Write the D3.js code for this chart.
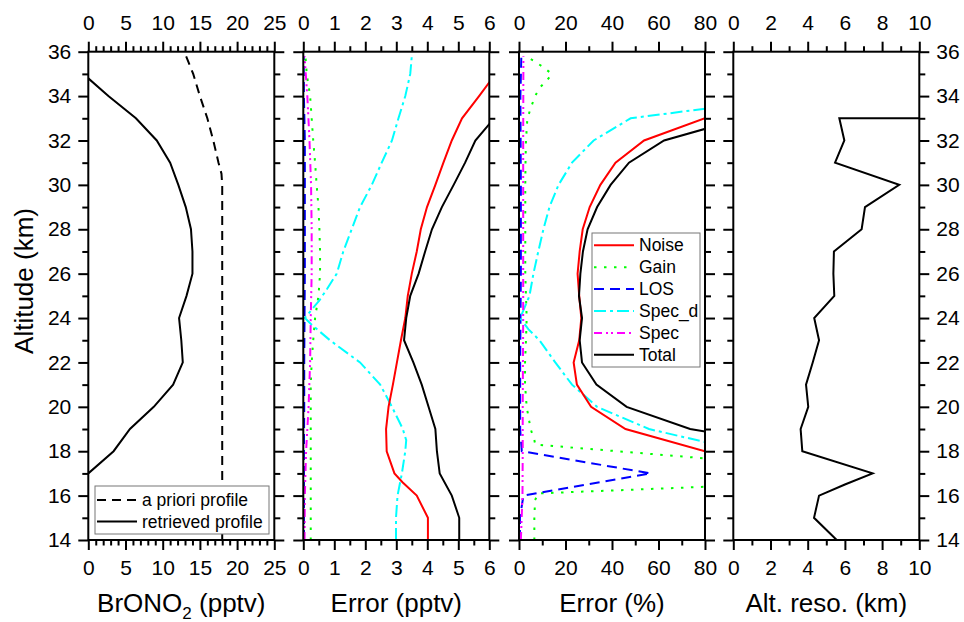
<!DOCTYPE html>
<html>
<head>
<meta charset="utf-8">
<script src="https://cdn.jsdelivr.net/npm/d3@7"></script>
<style>
  body { margin: 0; background: #fff; }
  svg { display: block; }
</style>
</head>
<body>
<div id="chart"></div>
<script>
// [altitude km, value] pairs

// panel 1: BrONO2 (pptv)
var aprioriProfile = [[14, 18], [30, 18], [30.5, 17.9], [31, 17.5], [32, 16.8], [33, 16.0], [34, 15.0], [35, 14.1], [36, 12.9]];
var retrievedProfile = [[17, 0], [18, 3.4], [19, 5.6], [20, 8.8], [21, 11.4], [22, 12.7], [23, 12.5], [24, 12.2], [25, 13.2],
  [26, 14.0], [27, 14.0], [28, 13.8], [29, 13.1], [30, 12.1], [31, 11.0], [32, 9.2], [33, 6.4], [34, 2.7], [34.8, 0]];

// panel 2: error (pptv)
var noisePptv = [[14, 4.02], [15, 4.02], [16, 3.66], [16.6, 3.2], [17, 2.94], [18, 2.69], [19, 2.67], [20, 2.75], [21, 2.89],
  [22, 3.02], [23, 3.15], [24, 3.29], [25, 3.37], [26, 3.50], [27, 3.66], [28, 3.79], [29, 3.99], [30, 4.26], [31, 4.52],
  [32, 4.79], [33, 5.12], [34, 5.67], [35, 6.2]];
var gainPptv = [[14, 0.24], [21, 0.24], [22, 0.27], [23, 0.32], [24, 0.38], [25, 0.49], [26, 0.54], [27, 0.54], [28, 0.52],
  [29, 0.49], [30, 0.43], [31, 0.38], [32, 0.32], [33, 0.27], [34, 0.22], [35, 0.11], [35.8, 0.07]];
var losPptv = [[14, 0.02], [18, 0.02], [20, 0.03], [22, 0.03], [24, 0.04], [26, 0.05], [28, 0.05], [30, 0.05], [32, 0.05],
  [34, 0.02], [35.8, 0.01]];
var specDPptv = [[14, 2.99], [15, 2.99], [16, 3.04], [17, 3.18], [18, 3.29], [18.5, 3.32], [19, 3.21], [20, 2.86], [21, 2.48],
  [22, 1.83], [23, 0.86], [23.7, 0.27], [24, 0.05], [24.8, 0.52], [25.3, 0.76], [26, 1.08], [27, 1.29], [28, 1.56], [29, 1.83],
  [30, 2.21], [31, 2.53], [32, 2.86], [33, 3.07], [34, 3.29], [35, 3.45], [35.8, 3.5]];
var specPptv = [[14, 0.04], [16, 0.05], [18, 0.09], [20, 0.17], [22, 0.22], [24, 0.24], [26, 0.27], [28, 0.27], [30, 0.25],
  [32, 0.2], [34, 0.13], [35.8, 0.04]];
var totalPptv = [[14, 5.03], [15, 5.03], [16, 4.79], [17, 4.40], [18, 4.31], [19, 4.26], [20, 4.04], [21, 3.82], [22, 3.55],
  [23, 3.25], [24, 3.32], [25, 3.45], [26, 3.72], [27, 3.93], [28, 4.15], [29, 4.47], [30, 4.85], [31, 5.22], [32, 5.55],
  [33, 6.16]];

// panel 3: error (%)
var noisePct = [[18, 80], [19, 45.8], [20, 31.0], [21, 24.9], [22, 23.5], [23, 25.9], [24, 26.8], [25, 25.9], [26, 25.2],
  [27, 26.1], [28, 27.4], [29, 30.4], [30, 35], [31, 41.5], [32, 53.8], [33, 80]];
var gainPct = [[14, 6.6], [15, 6.6], [15.8, 6.9], [16.1, 8.4], [16.5, 105], [17, 300], [17.5, 101], [18.3, 7], [18.5, 6.6],
  [19, 5.0], [20, 3.3], [21, 2.6], [22, 2.6], [23, 3.0], [24, 3.3], [25, 3.0], [26, 2.7], [27, 2.7], [28, 2.7], [29, 2.7],
  [30, 2.7], [31, 2.8], [32, 3.0], [33, 3.6], [33.5, 5.2], [34, 6.9], [34.4, 9.1], [34.7, 12], [35, 14.1], [35.3, 10.5],
  [35.6, 6.2], [35.8, 2.6]];
var losPct = [[14, 0.4], [15, 0.4], [16, 1.9], [17, 56.6], [18, 1.2], [19, 0.5], [22, 0.5], [26, 0.8], [30, 0.8], [34, 0.6],
  [35.8, 1.0]];
var specDPct = [[18, 97], [19, 55.9], [20, 33.6], [21, 22.8], [22, 15.6], [23, 8.8], [23.5, 4], [24, 0.5], [25, 4.5],
  [26, 6.2], [27, 8.3], [28, 10.5], [29, 13.1], [30, 17], [31, 22.8], [32, 32.1], [33, 48], [34, 122]];
var specPct = [[14, 0.8], [16, 1.5], [18, 1.6], [20, 1.6], [24, 1.8], [28, 1.8], [32, 1.8], [35.8, 1.9]];
var totalPct = [[18, 130], [19, 73.6], [20, 46.3], [21, 33.3], [22, 27.1], [23, 26.1], [24, 27.1], [25, 25.8], [26, 26.4],
  [27, 27.5], [28, 29.5], [29, 33.6], [30, 39.4], [31, 47.3], [32, 62.4], [33, 96]];

// panel 4: altitude resolution (km)
var altReso = [[14, 5.56], [15, 4.34], [16, 4.61], [16.5, 6.0], [17, 7.49], [18, 3.71], [19, 3.62], [20, 4.03], [21, 3.91],
  [22, 4.27], [23, 4.61], [24, 4.35], [25, 5.43], [26, 5.38], [27, 5.41], [28, 6.9], [29, 7.08], [30, 8.92], [31, 5.47],
  [32, 5.97], [33, 5.7], [33, 10.5]];

var errorNames = ['Noise', 'Gain', 'LOS', 'Spec_d', 'Spec', 'Total'];
var profileNames = ['a priori profile', 'retrieved profile'];

var font = '"Liberation Sans", Arial, Helvetica, sans-serif';

// line styles
var sty = {
  noise: {color: '#ff0000', dash: null},
  gain: {color: '#00ff00', dash: '2.5,7.5'},
  los: {color: '#0000ff', dash: '10,6'},
  specd: {color: '#00ffff', dash: '12,4,3,4'},
  spec: {color: '#ff00ff', dash: '8,4,2,3,2,4'},
  total: {color: '#000000', dash: null},
  apriori: {color: '#000000', dash: '9,6'},
  retr: {color: '#000000', dash: null}
};

var svg = d3.select('#chart').append('svg')
  .attr('width', 964)
  .attr('height', 622)
  .style('font-family', font);

var plotTop = 51.7, plotBottom = 540, panelW = 186;
var y = d3.scaleLinear().domain([14, 36]).range([plotBottom, plotTop]);

var panels = [
  {x0: 88.3, domain: [0, 25], major: d3.range(0, 26, 5), minor: d3.range(0, 26, 1),
    series: [[aprioriProfile, sty.apriori], [retrievedProfile, sty.retr]]},
  {x0: 303.3, domain: [0, 6], major: d3.range(0, 7, 1), minor: d3.range(0, 6.01, 0.5),
    series: [[gainPptv, sty.gain], [losPptv, sty.los], [specDPptv, sty.specd], [specPptv, sty.spec], [noisePptv, sty.noise], [totalPptv, sty.total]]},
  {x0: 519, domain: [0, 80], major: d3.range(0, 81, 20), minor: d3.range(0, 81, 10),
    series: [[gainPct, sty.gain], [losPct, sty.los], [specDPct, sty.specd], [specPct, sty.spec], [noisePct, sty.noise], [totalPct, sty.total]]},
  {x0: 733.3, domain: [0, 10], major: d3.range(0, 11, 2), minor: d3.range(0, 11, 1),
    series: [[altReso, sty.retr]]}
];

function styleAxis(g) {
  g.select('.domain').remove();
  g.attr('font-size', 21).attr('font-family', font);
  g.selectAll('line').attr('stroke', '#000').attr('stroke-width', 2);
  g.selectAll('text').attr('fill', '#000');
}

panels.forEach(function (p, i) {
  var g = svg.append('g').attr('transform', 'translate(' + p.x0 + ',0)');
  var x = d3.scaleLinear().domain(p.domain).range([0, panelW]);
  var minorX = p.minor.filter(function (v) { return p.major.indexOf(v) < 0; });

  g.append('clipPath').attr('id', 'clip' + i)
    .append('rect')
    .attr('x', 0).attr('y', plotTop)
    .attr('width', panelW).attr('height', plotBottom - plotTop);

  var line = d3.line()
    .x(function (d) { return x(d[1]); })
    .y(function (d) { return y(d[0]); });

  g.append('g').attr('clip-path', 'url(#clip' + i + ')')
    .selectAll('path')
    .data(p.series)
    .enter()
    .append('path')
    .attr('d', function (s) { return line(s[0]); })
    .attr('fill', 'none')
    .attr('stroke', function (s) { return s[1].color; })
    .attr('stroke-width', 2)
    .attr('stroke-dasharray', function (s) { return s[1].dash; });

  // frame
  g.append('rect')
    .attr('x', 0).attr('y', plotTop)
    .attr('width', panelW).attr('height', plotBottom - plotTop)
    .attr('fill', 'none').attr('stroke', '#000').attr('stroke-width', 2);

  // top / bottom axes
  g.append('g').attr('transform', 'translate(0,' + plotTop + ')')
    .call(d3.axisTop(x).tickValues(p.major).tickSize(10).tickPadding(11.5).tickFormat(d3.format('d')))
    .call(styleAxis);
  g.append('g').attr('transform', 'translate(0,' + plotTop + ')')
    .call(d3.axisTop(x).tickValues(minorX).tickSize(5.5).tickFormat(''))
    .call(styleAxis);
  g.append('g').attr('transform', 'translate(0,' + plotBottom + ')')
    .call(d3.axisBottom(x).tickValues(p.major).tickSize(10).tickPadding(10).tickFormat(d3.format('d')))
    .call(styleAxis);
  g.append('g').attr('transform', 'translate(0,' + plotBottom + ')')
    .call(d3.axisBottom(x).tickValues(minorX).tickSize(5.5).tickFormat(''))
    .call(styleAxis);

  // left / right altitude axes
  g.append('g')
    .call(d3.axisLeft(y).tickValues(d3.range(14, 37, 2)).tickSize(10).tickPadding(7)
      .tickFormat(i === 0 ? d3.format('d') : ''))
    .call(styleAxis);
  g.append('g')
    .call(d3.axisLeft(y).tickValues(d3.range(15, 36, 2)).tickSize(6).tickFormat(''))
    .call(styleAxis);
  g.append('g').attr('transform', 'translate(' + panelW + ',0)')
    .call(d3.axisRight(y).tickValues(d3.range(14, 37, 2)).tickSize(10).tickPadding(7)
      .tickFormat(i === 3 ? d3.format('d') : ''))
    .call(styleAxis);
  g.append('g').attr('transform', 'translate(' + panelW + ',0)')
    .call(d3.axisRight(y).tickValues(d3.range(15, 36, 2)).tickSize(6).tickFormat(''))
    .call(styleAxis);
});

// axis titles
var titles = svg.append('g').attr('font-size', 26).attr('text-anchor', 'middle').attr('fill', '#000');
var t0 = titles.append('text').attr('x', panels[0].x0 + panelW / 2).attr('y', 612);
t0.append('tspan').text('BrONO');
t0.append('tspan').attr('font-size', 17).attr('dy', 7).text('2');
t0.append('tspan').attr('dy', -7).text(' (pptv)');
titles.append('text').attr('x', panels[1].x0 + panelW / 2).attr('y', 612).text('Error (pptv)');
titles.append('text').attr('x', panels[2].x0 + panelW / 2).attr('y', 612).text('Error (%)');
titles.append('text').attr('x', panels[3].x0 + panelW / 2).attr('y', 612).text('Alt. reso. (km)');
titles.append('text').attr('transform', 'translate(33,281) rotate(-90)').text('Altitude (km)');

// legends
function legend(x0, y0, w, h, names, styles, rowY0, rowH) {
  var lg = svg.append('g');
  lg.append('rect').attr('x', x0).attr('y', y0).attr('width', w).attr('height', h)
    .attr('fill', '#fff').attr('stroke', '#777').attr('stroke-width', 1);
  var rows = lg.selectAll('.legend-item').data(names).enter().append('g')
    .attr('class', 'legend-item')
    .attr('transform', function (d, i) { return 'translate(' + x0 + ',' + (rowY0 + i * rowH) + ')'; });
  rows.append('line')
    .attr('x1', 2).attr('x2', 42).attr('y1', 0).attr('y2', 0)
    .attr('stroke', function (d, i) { return styles[i].color; })
    .attr('stroke-width', 2)
    .attr('stroke-dasharray', function (d, i) { return styles[i].dash; });
  rows.append('text')
    .attr('x', 47).attr('y', 0).attr('dy', '0.35em')
    .attr('font-size', 17.5).attr('fill', '#000')
    .text(function (d) { return d; });
}
legend(95, 486, 174, 48, profileNames, [sty.apriori, sty.retr], 500, 21.5);
legend(592, 233, 108, 134, errorNames, [sty.noise, sty.gain, sty.los, sty.specd, sty.spec, sty.total], 245.3, 21.9);
</script>
</body>
</html>
